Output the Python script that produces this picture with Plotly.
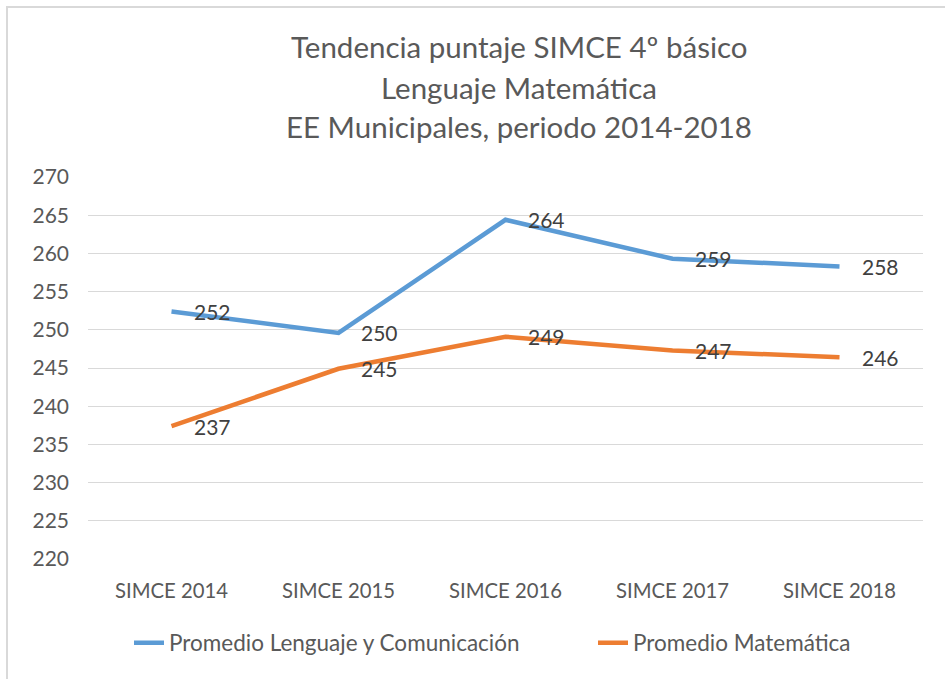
import plotly.graph_objects as go

categories = ["SIMCE 2014", "SIMCE 2015", "SIMCE 2016", "SIMCE 2017", "SIMCE 2018"]
lenguaje = [252.4, 249.6, 264.4, 259.3, 258.3]
matematica = [237.4, 244.9, 249.1, 247.3, 246.4]
series_names = ["Promedio Lenguaje y Comunicación", "Promedio Matemática"]
y_ticks = [220, 225, 230, 235, 240, 245, 250, 255, 260, 265, 270]
title_lines = ["Tendencia puntaje SIMCE 4º básico", "Lenguaje Matemática", "EE Municipales, periodo 2014-2018"]

FONT = "Lato"
TEXT = "#595959"
BLUE = "#5B9BD5"
ORANGE = "#ED7D31"

W, H = 945, 679
L, R, T, B = 88, 22, 177, 120
pw, ph = W - L - R, H - T - B

def px_x(p):
    return (p - L) / pw

def px_y(p):
    return (H - B - p) / ph

fig = go.Figure()
for name, vals, col, lg in [(series_names[0], lenguaje, BLUE, "legend"),
                            (series_names[1], matematica, ORANGE, "legend2")]:
    fig.add_trace(go.Scatter(x=categories, y=vals, mode="lines", name=name, legend=lg,
                             showlegend=True, line=dict(color=col, width=4.5)))

annotations = []
for vals in (lenguaje, matematica):
    for c, v in zip(categories, vals):
        annotations.append(dict(x=c, y=v, xref="x", yref="y", text=f"{v:.0f}",
                                showarrow=False, xanchor="left", yanchor="middle",
                                xshift=20, font=dict(family=FONT, size=21, color="#404040")))

for i, line in enumerate(title_lines):
    annotations.append(dict(x=px_x(519), y=px_y(47 + 40 * i), xref="paper", yref="paper",
                            text=line, showarrow=False, xanchor="center", yanchor="middle",
                            font=dict(family=FONT, size=29.5, color=TEXT)))

legend_common = dict(orientation="h", xanchor="left", y=px_y(643), yanchor="middle",
                     visible=True,
                     font=dict(family=FONT, size=22.5, color=TEXT), bgcolor="rgba(0,0,0,0)")

fig.update_layout(
    width=W, height=H,
    showlegend=True,
    margin=dict(l=L, r=R, t=T, b=B, autoexpand=False),
    paper_bgcolor="white", plot_bgcolor="white",
    font=dict(family=FONT, color=TEXT, size=21),
    xaxis=dict(type="category", range=[-0.5, 4.5], showgrid=False, zeroline=False,
               showline=False, ticks="", ticklabelstandoff=18,
               tickfont=dict(family=FONT, size=20.3, color=TEXT)),
    yaxis=dict(range=[220, 270], tickvals=y_ticks, showgrid=True, gridcolor="#D9D9D9",
               gridwidth=1.3, zeroline=False, showline=False, ticks="", ticklabelstandoff=18,
               tickfont=dict(family=FONT, size=21, color=TEXT)),
    legend=dict(x=px_x(129), **legend_common),
    legend2=dict(x=px_x(593), **legend_common),
    annotations=annotations,
    shapes=[dict(type="rect", xref="paper", yref="paper",
                 x0=px_x(7), x1=px_x(1000), y0=px_y(800), y1=px_y(7),
                 line=dict(color="#D9D9D9", width=2), fillcolor="rgba(0,0,0,0)", layer="below")],
)

fig.write_html("out.html", config={"displayModeBar": False},
               post_script="document.body.style.margin='0px';")
